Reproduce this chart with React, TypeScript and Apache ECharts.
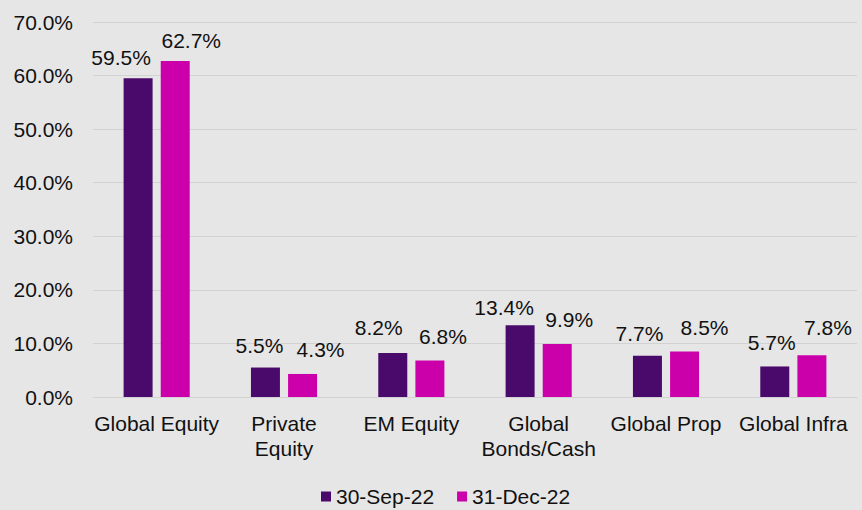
import React, { useEffect, useRef } from "react";
import * as echarts from "echarts";

const categories = ["Global Equity", "Private\nEquity", "EM Equity", "Global\nBonds/Cash", "Global Prop", "Global Infra"];
const seriesNames = ["30-Sep-22", "31-Dec-22"];
const sep22 = [59.5, 5.5, 8.2, 13.4, 7.7, 5.7];
const dec22 = [62.7, 4.3, 6.8, 9.9, 8.5, 7.8];
const yTicks = { min: 0, max: 70, interval: 10 };

// label nudges (layout only), [dx, dy] in pixels
const sepLabelNudge = [[-17, 2], [-6, 0], [-14, -3], [-16, 5], [-8, 0], [-3, -1]];
const decLabelNudge = [[16, 2], [18, -2], [13, -2], [12, -2], [20, -1], [16, -5]];

const FONT = "'Liberation Sans', Arial, sans-serif";
const FS = 21;

export default function App() {
  const ref = useRef<HTMLDivElement>(null);
  useEffect(() => {
    if (!ref.current) return;
    const chart = echarts.init(ref.current, null, { renderer: "svg" });
    const label = {
      show: true,
      position: "top",
      distance: 12,
      color: "#111",
      fontFamily: FONT,
      fontSize: FS,
      formatter: (p: any) => Number(p.value).toFixed(1) + "%",
    };
    const build = (vals: number[], nudges: number[][]) =>
      vals.map((v, i) => ({ value: v, label: { offset: nudges[i] } }));
    chart.setOption({
      animation: false,
      backgroundColor: "#e6e6e6",
      textStyle: { fontFamily: FONT },
      grid: { left: 93, right: 5, top: 22, bottom: 113, containLabel: false },
      legend: {
        top: 481,
        left: 316,
        itemWidth: 10,
        itemHeight: 10,
        itemGap: 23,
        icon: "rect",
        textStyle: { fontFamily: FONT, fontSize: FS, color: "#111" },
        data: seriesNames,
      },
      xAxis: {
        type: "category",
        data: categories,
        axisTick: { show: false },
        axisLine: { lineStyle: { color: "#d2d2d2", width: 1 } },
        axisLabel: {
          interval: 0,
          margin: 14,
          color: "#111",
          fontFamily: FONT,
          fontSize: FS,
          lineHeight: 25,
        },
      },
      yAxis: {
        type: "value",
        min: yTicks.min,
        max: yTicks.max,
        interval: yTicks.interval,
        axisLine: { show: false },
        axisTick: { show: false },
        splitLine: { lineStyle: { color: "#d2d2d2", width: 1 } },
        axisLabel: {
          margin: 20,
          color: "#111",
          fontFamily: FONT,
          fontSize: FS,
          formatter: (v: number) => v.toFixed(1) + "%",
        },
      },
      series: [
        {
          name: seriesNames[0],
          type: "bar",
          data: build(sep22, sepLabelNudge),
          barWidth: 29,
          barGap: "28%",
          itemStyle: { color: "#4a0a6b" },
          label,
        },
        {
          name: seriesNames[1],
          type: "bar",
          data: build(dec22, decLabelNudge),
          barWidth: 29,
          itemStyle: { color: "#cc00aa" },
          label,
        },
      ],
    });
    return () => chart.dispose();
  }, []);
  return (
    <div
      ref={ref}
      style={{ position: "fixed", left: 0, top: 0, width: 862, height: 510 }}
    />
  );
}
